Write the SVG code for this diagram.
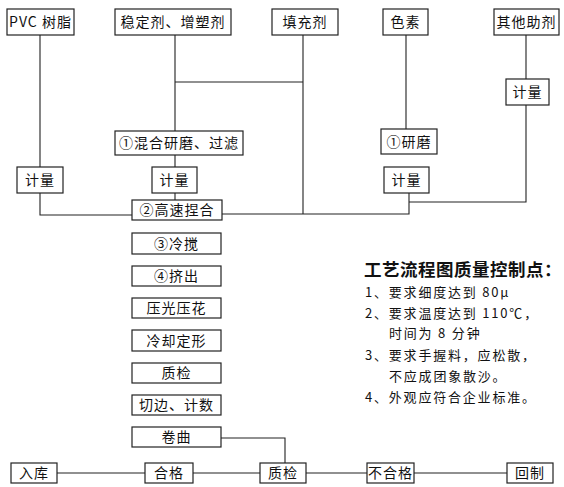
<svg xmlns="http://www.w3.org/2000/svg" width="564" height="487" viewBox="0 0 564 487">
<style>
.b{fill:#fff;stroke:#222;stroke-width:1.2}
.t{font-family:"Noto Sans CJK SC","Liberation Sans",sans-serif;font-size:14px;fill:#111;text-anchor:middle;letter-spacing:1px}
.c{fill:none;stroke:#222;stroke-width:1.1}
.n{font-family:"Noto Sans CJK SC","Liberation Sans",sans-serif;font-size:13px;fill:#111;letter-spacing:1.8px}
.h{font-family:"Noto Sans CJK SC","Liberation Sans",sans-serif;font-size:17.5px;font-weight:bold;fill:#111;letter-spacing:0.5px}
</style>
<rect width="564" height="487" fill="#fff"/>
<g id="connectors">
<path class="c" d="M40 35V167M40 193V215H132M175 35V131M175 82H303M303 35V214M222 214H409V193M175 155V167M175 193V200M406 35V129M526 35V79M526 105V202H409M221 438H285V464M57 473H145M193 473H260M306 473H367M414 473H507"/>
</g>
<g id="n_pvc"><rect class="b" x="7" y="9" width="67" height="26"/><text class="t" x="40.5" y="27">PVC 树脂</text></g>
<g id="n_wdj"><rect class="b" x="115" y="9" width="116" height="26"/><text class="t" x="173" y="27">稳定剂、增塑剂</text></g>
<g id="n_tcj"><rect class="b" x="272" y="9" width="66" height="26"/><text class="t" x="305" y="27">填充剂</text></g>
<g id="n_ss"><rect class="b" x="383" y="9" width="45" height="26"/><text class="t" x="405.5" y="27">色素</text></g>
<g id="n_qt"><rect class="b" x="494" y="9" width="65" height="26"/><text class="t" x="526.5" y="27">其他助剂</text></g>
<g id="n_jl4"><rect class="b" x="506" y="79" width="43" height="26"/><text class="t" x="527.5" y="97">计量</text></g>
<g id="n_hh"><rect class="b" x="115" y="131" width="128" height="24"/><text class="t" x="179" y="148">①混合研磨、过滤</text></g>
<g id="n_ym"><rect class="b" x="381" y="129" width="56" height="25"/><text class="t" x="409" y="146.5">①研磨</text></g>
<g id="n_jl1"><rect class="b" x="17" y="167" width="46" height="26"/><text class="t" x="40" y="185">计量</text></g>
<g id="n_jl2"><rect class="b" x="152" y="167" width="45" height="26"/><text class="t" x="174.5" y="185">计量</text></g>
<g id="n_jl3"><rect class="b" x="384" y="167" width="45" height="26"/><text class="t" x="406.5" y="185">计量</text></g>
<g id="n_gs"><rect class="b" x="132" y="200" width="90" height="20"/><text class="t" x="177" y="215">②高速捏合</text></g>
<g id="n_lj"><rect class="b" x="132" y="233" width="89" height="21"/><text class="t" x="176.5" y="248.5">③冷搅</text></g>
<g id="n_jc"><rect class="b" x="132" y="266" width="89" height="20"/><text class="t" x="176.5" y="281">④挤出</text></g>
<g id="n_yg"><rect class="b" x="132" y="298" width="89" height="20"/><text class="t" x="176.5" y="313">压光压花</text></g>
<g id="n_lq"><rect class="b" x="132" y="330" width="89" height="21"/><text class="t" x="176.5" y="345.5">冷却定形</text></g>
<g id="n_zj1"><rect class="b" x="132" y="363" width="89" height="20"/><text class="t" x="176.5" y="378">质检</text></g>
<g id="n_qb"><rect class="b" x="132" y="395" width="89" height="20"/><text class="t" x="176.5" y="410">切边、计数</text></g>
<g id="n_jq"><rect class="b" x="132" y="427" width="89" height="20"/><text class="t" x="176.5" y="442">卷曲</text></g>
<g id="n_rk"><rect class="b" x="11" y="463" width="46" height="20"/><text class="t" x="34" y="478">入库</text></g>
<g id="n_hg"><rect class="b" x="145" y="463" width="48" height="20"/><text class="t" x="169" y="478">合格</text></g>
<g id="n_zj2"><rect class="b" x="260" y="463" width="46" height="20"/><text class="t" x="283" y="478">质检</text></g>
<g id="n_bhg"><rect class="b" x="367" y="463" width="47" height="20"/><text class="t" x="390.5" y="478">不合格</text></g>
<g id="n_hz"><rect class="b" x="507" y="463" width="46" height="20"/><text class="t" x="530" y="478">回制</text></g>
<g id="notes">
<text class="h" x="364" y="276">工艺流程图质量控制点：</text>
<text class="n" x="365" y="297">1、要求细度达到 80μ</text>
<text class="n" x="365" y="318">2、要求温度达到 110℃，</text>
<text class="n" x="389" y="338">时间为 8 分钟</text>
<text class="n" x="365" y="360">3、要求手握料，应松散，</text>
<text class="n" x="389" y="381">不应成团象散沙。</text>
<text class="n" x="365" y="402">4、外观应符合企业标准。</text>
</g>
</svg>
